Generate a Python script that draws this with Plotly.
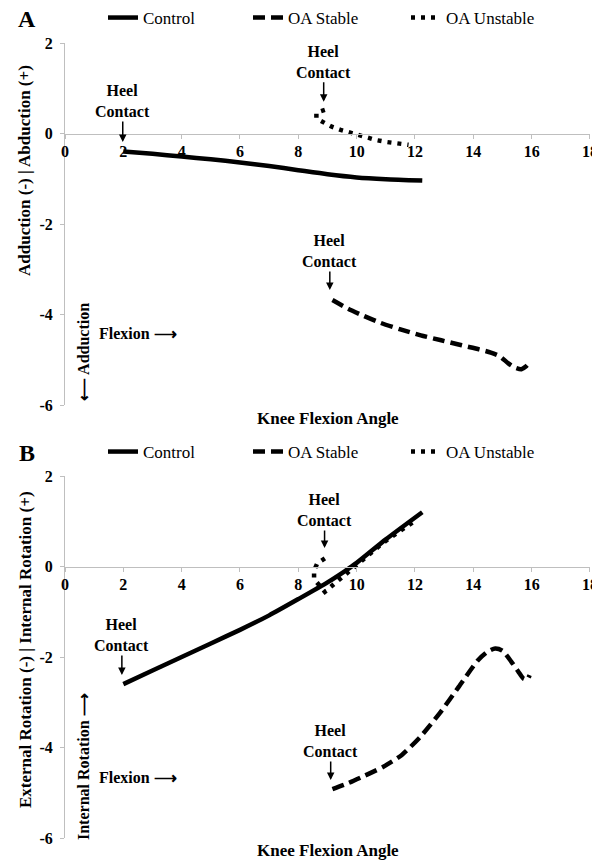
import plotly.graph_objects as go

# ---------------- data ----------------
X_TICKS = [0, 2, 4, 6, 8, 10, 12, 14, 16, 18]
X_TICKTEXT = ["0", "2", "4", "6", "8", "10", "12", "14", "16", "18"]
Y_TICKS = [2, 0, -2, -4, -6]
Y_TICKTEXT = ["2", "0", "-2", "-4", "-6"]

SERIES = ["Control", "OA Stable", "OA Unstable"]

# Panel A: Adduction (-) | Abduction (+)
A_CONTROL_X = [2, 3, 4, 5, 6, 7, 8, 9, 10, 11, 12.25]
A_CONTROL_Y = [-0.40, -0.45, -0.51, -0.57, -0.64, -0.72, -0.81, -0.90, -0.97, -1.01, -1.04]
A_STABLE_X = [9.17, 9.7, 10.2, 10.8, 11.5, 12.2, 12.9, 13.6, 14.2, 14.6, 14.9, 15.2, 15.45, 15.65, 15.8, 15.93]
A_STABLE_Y = [-3.68, -3.87, -4.02, -4.18, -4.33, -4.46, -4.57, -4.68, -4.77, -4.84, -4.92, -5.08, -5.18, -5.21, -5.15, -5.06]
A_UNSTABLE_X = [8.91, 8.62, 8.62, 8.88, 9.15, 9.45, 9.75, 10.05, 10.35, 10.7, 11.05, 11.4, 11.78]
A_UNSTABLE_Y = [0.52, 0.46, 0.33, 0.23, 0.15, 0.08, 0.02, -0.04, -0.10, -0.15, -0.19, -0.22, -0.25]

# Panel B: External Rotation (-) | Internal Rotation (+)
B_CONTROL_X = [2, 3, 4, 5, 6, 7, 8, 9, 9.6, 10, 11, 12.25]
B_CONTROL_Y = [-2.60, -2.30, -2.00, -1.70, -1.40, -1.08, -0.72, -0.35, -0.10, 0.08, 0.60, 1.20]
B_STABLE_X = [9.17, 9.7, 10.22, 10.9, 11.54, 12.19, 12.85, 13.5, 14.16, 14.5, 14.75, 15.0, 15.3, 15.54, 15.72, 15.85, 15.93]
B_STABLE_Y = [-4.92, -4.79, -4.64, -4.43, -4.17, -3.76, -3.24, -2.66, -2.07, -1.88, -1.81, -1.86, -2.10, -2.32, -2.48, -2.50, -2.40]
B_UNSTABLE_X = [8.91, 8.65, 8.54, 8.54, 8.91, 9.15, 9.37, 9.57, 9.8, 10.03, 10.45, 10.88, 11.2, 11.54, 12.0]
B_UNSTABLE_Y = [0.18, 0.07, -0.09, -0.28, -0.56, -0.43, -0.31, -0.19, -0.06, 0.06, 0.29, 0.51, 0.66, 0.81, 1.01]

# ---------------- styling ----------------
FONT = "Liberation Serif"
AX_GRAY = "#bfbfbf"
LINE_W = 4.5
DASHES = {"Control": "solid", "OA Stable": "12px,6px", "OA Unstable": "4px,6px"}

fig = go.Figure()

panels = [
    ("x", "y", [A_CONTROL_X, A_STABLE_X, A_UNSTABLE_X], [A_CONTROL_Y, A_STABLE_Y, A_UNSTABLE_Y], ["legend", "legend2", "legend3"]),
    ("x2", "y2", [B_CONTROL_X, B_STABLE_X, B_UNSTABLE_X], [B_CONTROL_Y, B_STABLE_Y, B_UNSTABLE_Y], ["legend4", "legend5", "legend6"]),
]
for xa, ya, xs, ys, legs in panels:
    for name, xv, yv, lg in zip(SERIES, xs, ys, legs):
        fig.add_trace(go.Scatter(
            x=xv, y=yv, name=name, mode="lines", xaxis=xa, yaxis=ya, legend=lg,
            line=dict(color="black", width=LINE_W, dash=DASHES[name],
                      shape="spline" if name != "OA Unstable" else "linear", smoothing=0.6),
        ))

# The page body has an 8px margin, so the figure is drawn 8px in from the window corner.
OFF = 8
W, H = 600 - OFF, 863 - OFF
# target plot area in window pixels: x 65..590, y 43..838
L, T = 65 - OFF, 43 - OFF
R = W - (590 - OFF)
B = H - (838 - OFF)
PW, PH = W - L - R, H - T - B


def px_x(p):
    """window pixel x -> paper fraction"""
    return (p - OFF - L) / PW


def px_y(p):
    """window pixel y -> paper fraction"""
    return (H - B - (p - OFF)) / PH


dom_a = [px_y(405), 1.0]
dom_b = [0.0, px_y(476)]

common_x = dict(range=[0, 18.001], tickvals=X_TICKS, ticktext=X_TICKTEXT, ticks="outside", ticklen=4,
                tickcolor=AX_GRAY, showline=True, linecolor=AX_GRAY, linewidth=1, showgrid=False,
                zeroline=False, anchor="free", ticklabelstandoff=-1, ticklabeloverflow="allow",
                tickfont=dict(family=FONT, size=16, color="black", weight="bold"))
common_y = dict(range=[-6, 2], tickvals=Y_TICKS, ticktext=Y_TICKTEXT, ticks="outside", ticklen=4,
                tickcolor=AX_GRAY, showline=True, linecolor=AX_GRAY, linewidth=1, showgrid=False,
                zeroline=False, ticklabelstandoff=4,
                tickfont=dict(family=FONT, size=16, color="black", weight="bold"))

fig.update_layout(
    xaxis=dict(**common_x, domain=[0, 1], position=px_y(133.5)),
    yaxis=dict(**common_y, domain=dom_a, anchor="x"),
    xaxis2=dict(**common_x, domain=[0, 1], position=px_y(566.5)),
    yaxis2=dict(**common_y, domain=dom_b, anchor="x2"),
)

# legends: one per entry so spacing matches
leg_font = dict(family=FONT, size=17, color="black")
leg_x = [px_x(103), px_x(248), px_x(406)]
for i, lg in enumerate(["legend", "legend2", "legend3"]):
    fig.update_layout({lg: dict(x=leg_x[i], y=px_y(18), xanchor="left", yanchor="middle",
                                orientation="h", font=leg_font, bgcolor="rgba(0,0,0,0)", itemwidth=30)})
for i, lg in enumerate(["legend4", "legend5", "legend6"]):
    fig.update_layout({lg: dict(x=leg_x[i], y=px_y(452), xanchor="left", yanchor="middle",
                                orientation="h", font=leg_font, bgcolor="rgba(0,0,0,0)", itemwidth=30)})

bold16 = dict(family=FONT, size=16, color="black", weight="bold")
bold17 = dict(family=FONT, size=17, color="black", weight="bold")


def label(px, py, text, font, angle=0):
    return dict(x=px_x(px), y=px_y(py), xref="paper", yref="paper", text=text, showarrow=False,
                xanchor="center", yanchor="middle", textangle=angle, font=font)


letter_font = dict(family=FONT, size=24, color="black", weight="bold")
ann = [
    label(27, 19, "A", letter_font),
    label(27, 453, "B", letter_font),
    label(25, 171, "Adduction (-) | Abduction (+)", bold17, -90),
    label(25, 650, "External Rotation (-) | Internal Rotation (+)", bold17, -90),
    label(328, 418, "Knee Flexion Angle", bold17),
    label(328, 850, "Knee Flexion Angle", bold17),
    label(138, 333, "Flexion ⟶", bold16),
    label(138, 777, "Flexion ⟶", bold16),
    label(83, 352, "⟵ Adduction", bold16, -90),
    label(83, 767, "Internal Rotation ⟶", bold16, -90),
]

# heel contact markers (tip in data coords, ay in px)
heel = [
    ("x", "y", 1.98, -0.19, -41),
    ("x", "y", 8.87, 0.70, -40),
    ("x", "y", 9.08, -3.46, -39),
    ("x2", "y2", 8.90, 0.41, -38),
    ("x2", "y2", 1.95, -2.40, -40),
    ("x2", "y2", 9.11, -4.72, -39),
]
for xr, yr, hx, hy, ay in heel:
    ann.append(dict(x=hx, y=hy, xref=xr, yref=yr, text="Heel<br>Contact", showarrow=True,
                    ax=0, ay=ay, arrowhead=2, arrowsize=1, arrowwidth=1.5, arrowcolor="black",
                    font=bold16))

fig.update_layout(
    annotations=ann,
    width=W, height=H, autosize=False,
    margin=dict(l=L, r=R, t=T, b=B, autoexpand=False),
    paper_bgcolor="white", plot_bgcolor="white",
    showlegend=True,
)

fig.write_html("out.html")
